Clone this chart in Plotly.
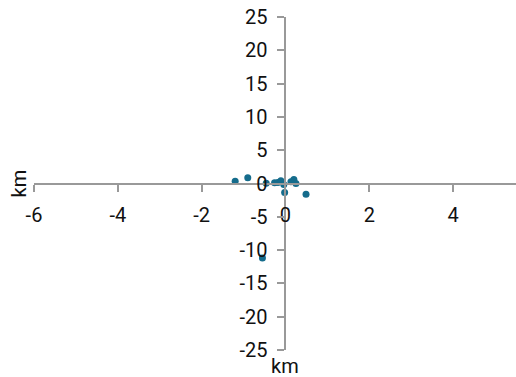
import plotly.graph_objects as go

# scatter points (km)
x_km = [-1.20, -0.90, -0.46, -0.26, -0.18, -0.11, -0.04, -0.02, 0.13, 0.20, 0.25, 0.49, -0.55]
y_km = [0.35, 0.85, 0.05, 0.10, 0.15, 0.40, -0.15, -1.35, 0.25, 0.60, 0.00, -1.60, -11.2]

x_ticks = [-6, -4, -2, 0, 2, 4]
x_tick_labels = ["-6", "-4", "-2", "0", "2", "4"]
y_ticks = [-25, -20, -15, -10, -5, 0, 5, 10, 15, 20, 25]
y_tick_labels = ["-25", "-20", "-15", "-10", "-5", "0", "5", "10", "15", "20", "25"]

x_range = [-6, 5.5]
y_range = [-25, 25]

font_name = "Roboto, sans-serif"
axis_col = "#999999"

fig = go.Figure()
fig.add_trace(go.Scatter(
    x=x_km, y=y_km, mode="markers",
    marker=dict(size=7, color="#156c8c"),
    showlegend=False,
))

fig.update_layout(
    width=516, height=377,
    margin=dict(l=34, r=0, t=17, b=27),
    plot_bgcolor="white", paper_bgcolor="white",
    font=dict(family=font_name, size=20, color="#111111"),
    xaxis=dict(
        range=x_range, tickvals=x_ticks, ticktext=x_tick_labels,
        showgrid=False, zeroline=False,
        showline=True, linecolor=axis_col, linewidth=2, automargin=False,
        ticks="outside", ticklen=7, tickcolor=axis_col, tickwidth=2,
        anchor="free", position=0.5, ticklabelstandoff=6,
    ),
    yaxis=dict(
        range=y_range, tickvals=y_ticks, ticktext=y_tick_labels,
        showgrid=False, zeroline=False,
        showline=True, linecolor=axis_col, linewidth=2, automargin=False,
        ticks="outside", ticklen=7, tickcolor=axis_col, tickwidth=2,
        anchor="free", position=6 / 11.5, ticklabelstandoff=6,
    ),
    annotations=[
        dict(text="km", x=0, xref="x", y=0, yref="paper", yanchor="top",
             yshift=-2, showarrow=False, font=dict(size=20)),
        dict(text="km", x=0, xref="paper", xanchor="center", xshift=-16,
             y=0, yref="y", yanchor="middle",
             textangle=-90, showarrow=False, font=dict(size=20)),
    ],
)

# drop the default body margin so the chart sits at the window corner
fig.write_html("out.html", config={"displayModeBar": False},
               post_script="document.body.style.margin = '0';")
